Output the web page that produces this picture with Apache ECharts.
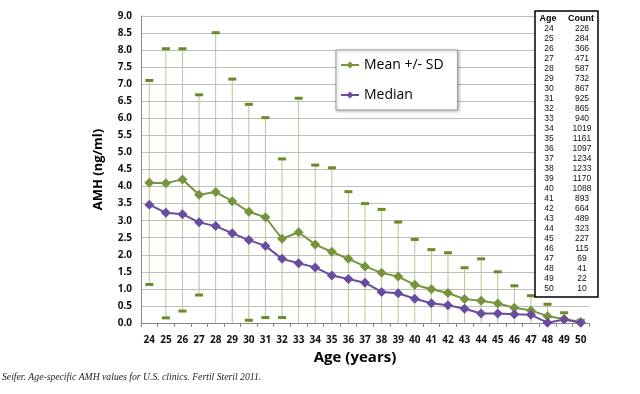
<!DOCTYPE html>
<html>
<head>
<meta charset="utf-8">
<script src="https://cdn.jsdelivr.net/npm/echarts@6/dist/echarts.min.js"></script>
<style>
html,body{margin:0;padding:0;background:#fff;}
#chart{width:640px;height:394px;}
</style>
</head>
<body>
<div id="chart"></div>
<script>
const ages = ['24','25','26','27','28','29','30','31','32','33','34','35','36','37','38','39','40','41','42','43','44','45','46','47','48','49','50'];
const meanAMH = [4.11,4.10,4.21,3.76,3.84,3.57,3.26,3.10,2.47,2.66,2.30,2.09,1.88,1.66,1.47,1.36,1.12,0.99,0.88,0.70,0.65,0.57,0.45,0.37,0.20,0.12,0.03];
const medianAMH = [3.47,3.23,3.19,2.95,2.84,2.63,2.43,2.26,1.88,1.75,1.63,1.39,1.29,1.18,0.91,0.87,0.71,0.58,0.52,0.42,0.28,0.28,0.26,0.24,0.01,0.10,0.01];
const upperSD = [7.11,8.04,8.04,6.69,8.51,7.15,6.41,6.02,4.81,6.59,4.63,4.55,3.85,3.50,3.33,2.96,2.45,2.15,2.06,1.62,1.88,1.50,1.09,0.80,0.55,0.30,0.08];
// lower end of the error bar; null = below the axis (no cap visible)
const lowerSD = [1.13,0.15,0.35,0.82,null,null,0.08,0.16,0.16,null,null,null,null,null,null,null,null,null,null,null,null,null,null,null,null,null,null];
const counts = [228,284,366,471,587,732,867,925,865,940,1019,1161,1097,1234,1233,1170,1088,893,664,489,323,227,115,69,41,22,10];

const GREEN = '#77933c';
const PURPLE = '#6a4c9f';

const chart = echarts.init(document.getElementById('chart'), null, {renderer:'canvas'});

const errData = ages.map((a,i)=>[i, upperSD[i], lowerSD[i]==null?0:lowerSD[i], lowerSD[i]==null?0:1]);

// table graphic
const tableEls = [];
const tLeft = 535, tTop = 11, tRight = 598, tBottom = 297, rowH = 10.0, firstRowY = 29;
const tf = '"Liberation Sans", Arial, sans-serif';
tableEls.push({type:'rect', shape:{x:tLeft, y:tTop, width:tRight-tLeft, height:tBottom-tTop}, style:{fill:'#fff', stroke:'#000', lineWidth:1.5}, z:100});
tableEls.push({type:'text', x:548, y:18.5, style:{text:'Age', font:'bold 9px '+tf, fill:'#000', textAlign:'center', textVerticalAlign:'middle'}, z:101});
tableEls.push({type:'text', x:581, y:18.5, style:{text:'Count', font:'bold 9px '+tf, fill:'#000', textAlign:'center', textVerticalAlign:'middle'}, z:101});
ages.forEach((a,i)=>{
  const y = firstRowY + i*rowH;
  tableEls.push({type:'text', x:549, y:y, style:{text:a, font:'8.5px '+tf, fill:'#111', textAlign:'center', textVerticalAlign:'middle'}, z:101});
  tableEls.push({type:'text', x:582, y:y, style:{text:String(counts[i]), font:'8.5px '+tf, fill:'#111', textAlign:'center', textVerticalAlign:'middle'}, z:101});
});
tableEls.push({type:'text', x:2, y:377, style:{text:'Seifer. Age-specific AMH values for U.S. clinics. Fertil Steril 2011.', font:'italic 9.7px "Liberation Serif", "Times New Roman", serif', fill:'#222', textAlign:'left', textVerticalAlign:'middle'}, z:101});

const option = {
  animation:false,
  backgroundColor:'#fff',
  grid:{left:141, right:51, top:16, bottom:71},
  legend:{
    orient:'vertical', left:336, top:50,
    data:['Mean +/- SD','Median'],
    itemWidth:18, itemHeight:9, itemGap:16,
    padding:[8,14,8,4],
    borderColor:'#999', borderWidth:1,
    backgroundColor:'#fff',
    shadowColor:'rgba(0,0,0,0.25)', shadowBlur:3, shadowOffsetX:1, shadowOffsetY:1,
    textStyle:{fontFamily:'"Open Sans", "Liberation Sans", sans-serif', fontSize:14, color:'#000'},
    z:20
  },
  xAxis:{
    type:'category', data:ages, boundaryGap:true,
    axisLine:{lineStyle:{color:'#888', width:1}},
    axisTick:{show:true, alignWithLabel:false, length:4, lineStyle:{color:'#888'}},
    axisLabel:{interval:0, margin:12, fontSize:10, fontWeight:'bold', color:'#111', fontFamily:'"Open Sans", "Liberation Sans", sans-serif'},
    name:'Age (years)', nameLocation:'middle', nameGap:27,
    nameTextStyle:{fontSize:15, fontWeight:'bold', color:'#000', fontFamily:'"Open Sans", "Liberation Sans", sans-serif', padding:[0,20,0,0]},
    splitLine:{show:false}
  },
  yAxis:{
    type:'value', min:0, max:9, interval:0.5,
    axisLine:{show:true, lineStyle:{color:'#888'}},
    axisTick:{show:false},
    axisLabel:{margin:9, fontSize:10, fontWeight:'bold', color:'#111', fontFamily:'"Open Sans", "Liberation Sans", sans-serif', formatter:v=>v.toFixed(1)},
    splitLine:{show:true, lineStyle:{color:'#bdbdbd', width:1}},
    name:'AMH (ng/ml)', nameLocation:'middle', nameGap:36,
    nameTextStyle:{fontSize:13, fontWeight:'bold', color:'#000', fontFamily:'"Open Sans", "Liberation Sans", sans-serif'}
  },
  series:[
    {
      type:'custom', name:'SD', data:errData, z:1, silent:true,
      renderItem:function(params, api){
        const idx = api.value(0);
        const top = api.coord([idx, api.value(1)]);
        const bot = api.coord([idx, api.value(2)]);
        const hasLow = api.value(3) === 1;
        const ch = [
          {type:'line', shape:{x1:top[0], y1:top[1], x2:bot[0], y2:bot[1]}, style:{stroke:'#b4c98f', lineWidth:1}},
          {type:'rect', shape:{x:top[0]-4, y:top[1]-1.5, width:8, height:3}, style:{fill:'#6b8a2a'}}
        ];
        if (hasLow) ch.push({type:'rect', shape:{x:bot[0]-4, y:bot[1]-1.5, width:8, height:3}, style:{fill:'#6b8a2a'}});
        return {type:'group', children:ch};
      }
    },
    {
      type:'line', name:'Mean +/- SD', data:meanAMH, z:3,
      symbol:'diamond', symbolSize:10,
      lineStyle:{color:GREEN, width:2}, itemStyle:{color:GREEN}
    },
    {
      type:'line', name:'Median', data:medianAMH, z:4,
      symbol:'diamond', symbolSize:10,
      lineStyle:{color:PURPLE, width:2}, itemStyle:{color:PURPLE}
    }
  ],
  graphic:tableEls
};
chart.setOption(option);
</script>
</body>
</html>
